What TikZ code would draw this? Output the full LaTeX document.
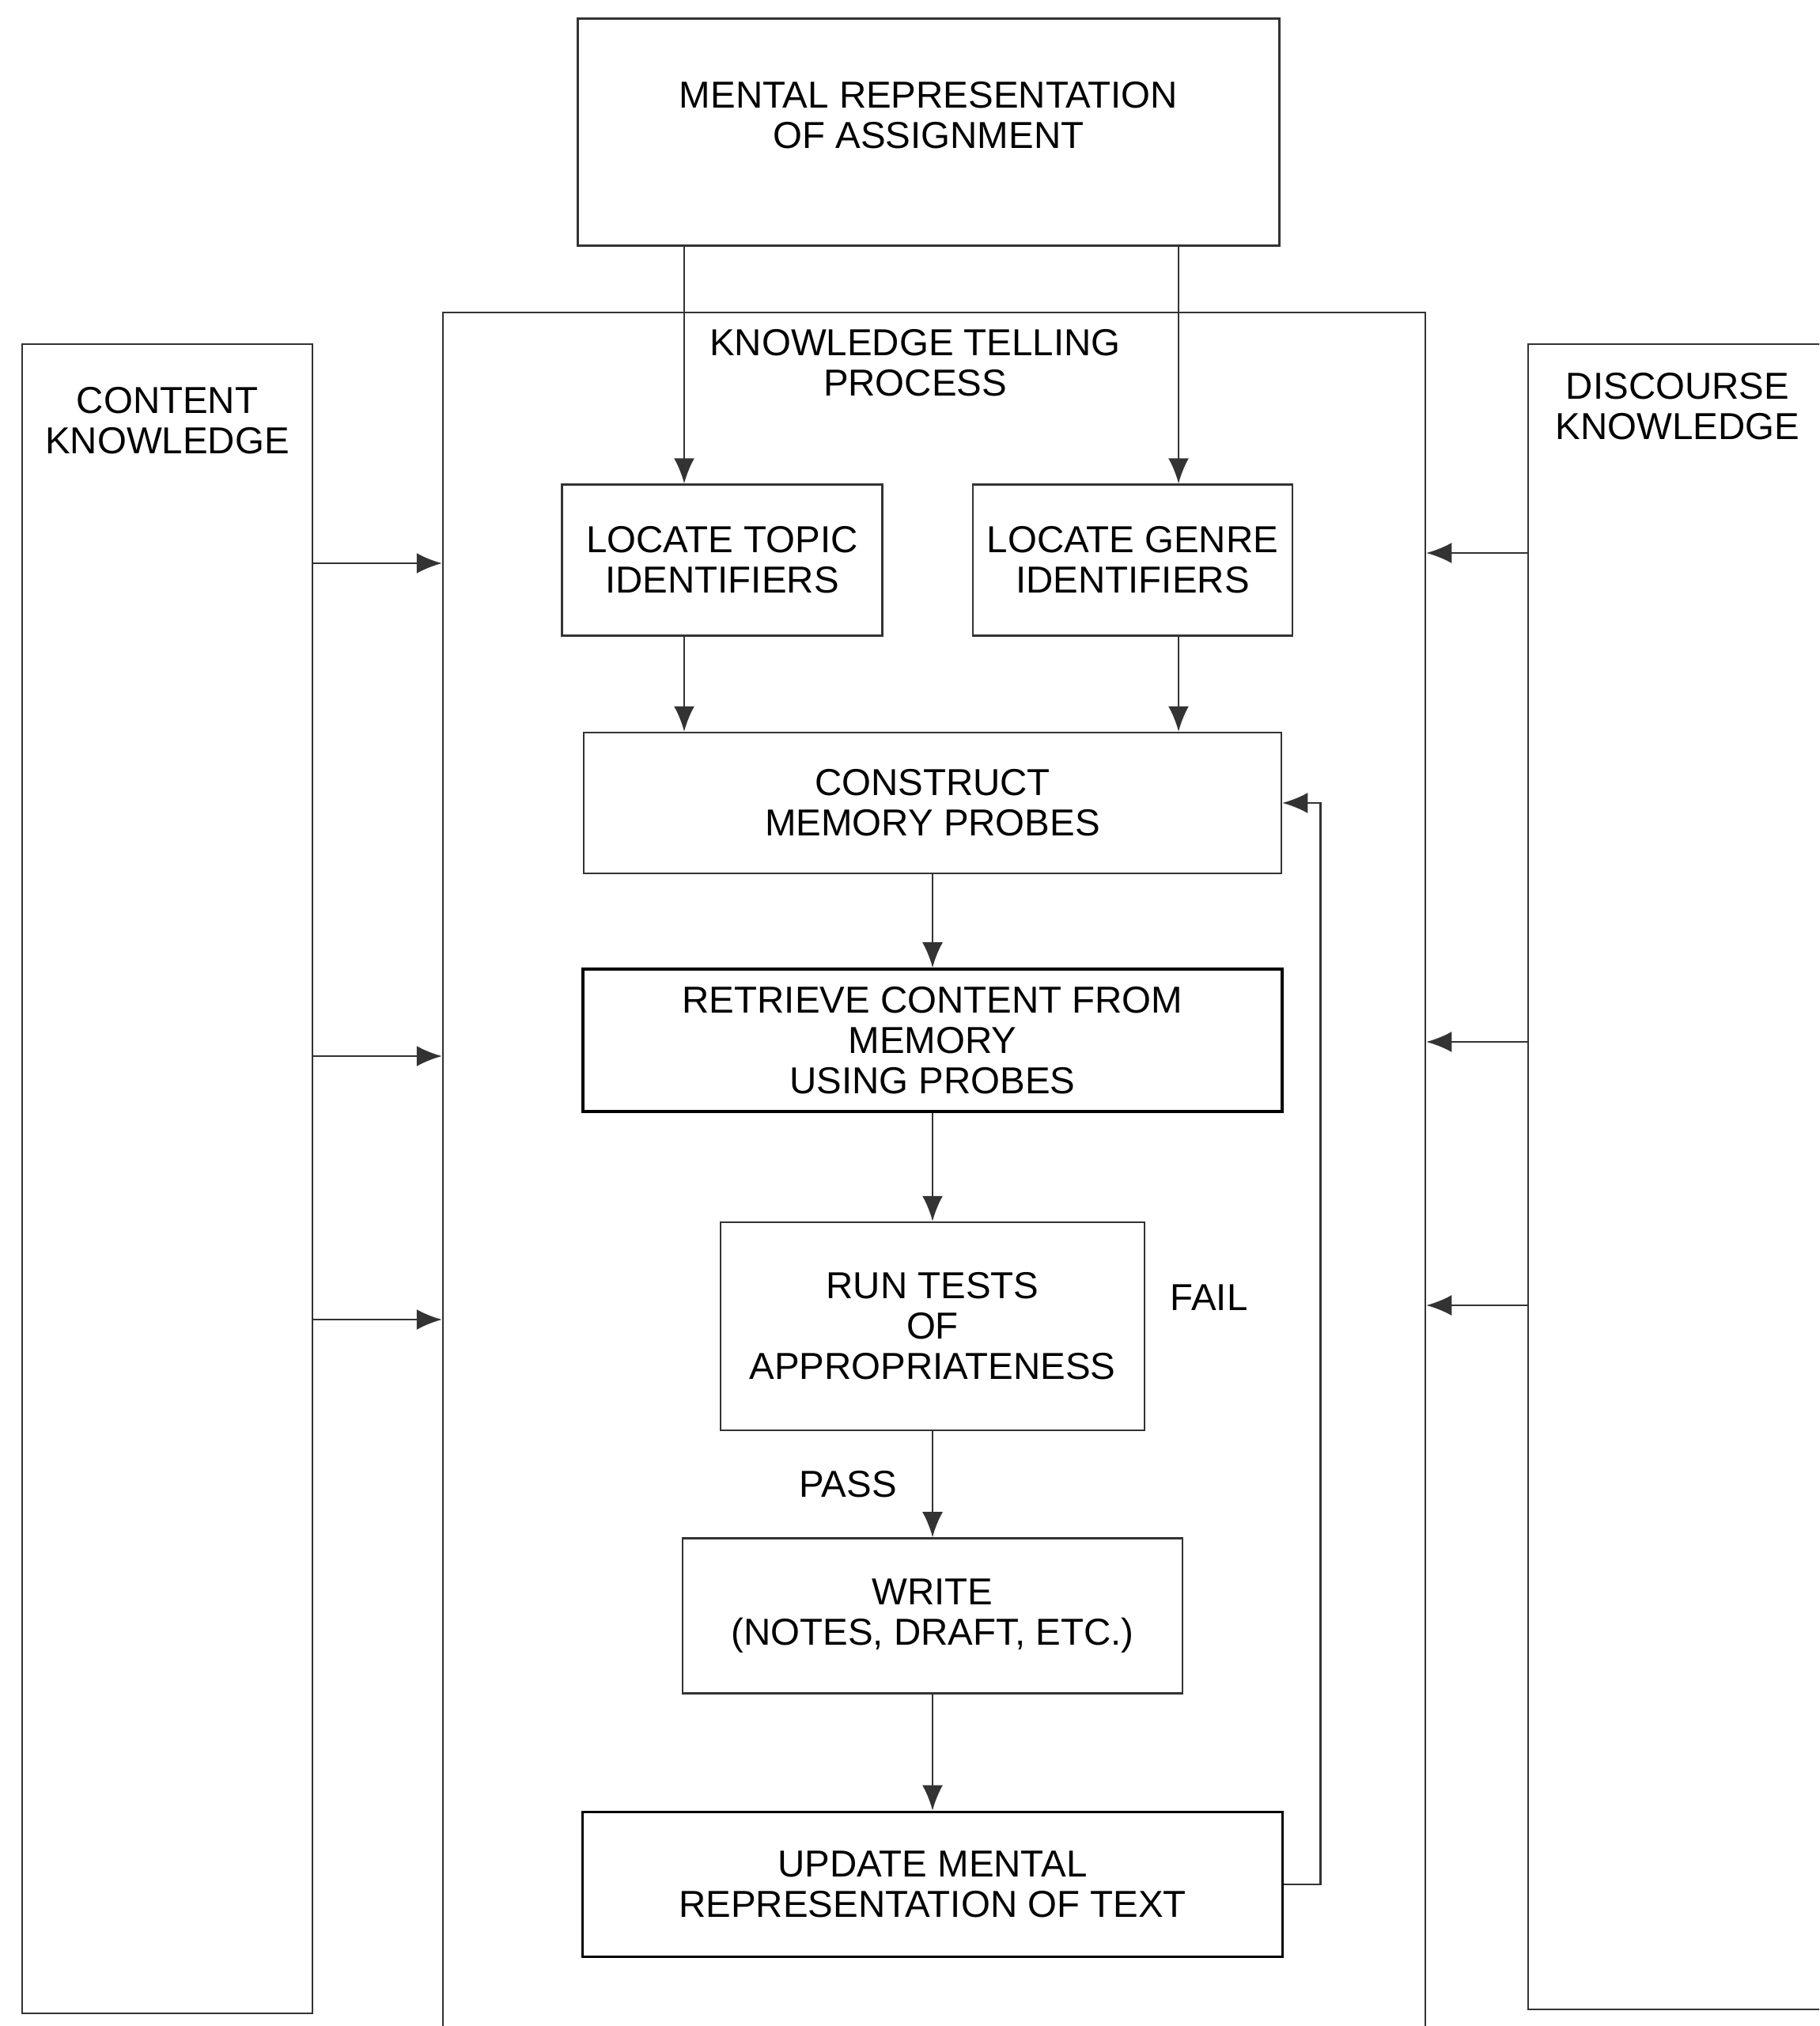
\documentclass[tikz,border=0pt]{standalone}
\usepackage{fontspec}
\setmainfont{Liberation Sans}
\usetikzlibrary{positioning}
\usetikzlibrary{arrows.meta}

\begin{document}
\begin{tikzpicture}[node distance=1.2cm, >={Latex[length=3.2mm,width=2.6mm]},
        every node/.style={font=\fontsize{13.5}{14.5}\selectfont, align=center, inner sep=0pt},
        procbox/.style={draw=black!80, line width=0.7pt},
        heavybox/.style={draw=black, line width=1pt},
        link/.style={->, draw=black!80, line width=0.7pt}]
            \useasboundingbox (0,0) rectangle (23,-25.61);
            \clip (0,0) rectangle (23,-25.61);
            % outer boxes
            \node[procbox, minimum width=8.87cm, minimum height=2.87cm] (assignment) at (11.74,-1.67) {};
            \node (assignment_text) [below=0.8cm of assignment.north] {MENTAL REPRESENTATION\\OF ASSIGNMENT};
            \node[procbox, minimum width=12.42cm, minimum height=24cm] (kt_process) at (11.81,-15.95) {};
            \node (kt_text) [below=0.22cm of kt_process.north, xshift=-0.24cm] {KNOWLEDGE TELLING\\PROCESS};
            \node[procbox, minimum width=3.67cm, minimum height=21.10cm] (content_knowledge) at (2.115,-14.90) {};
            \node (content_text) [below=0.55cm of content_knowledge.north] {CONTENT\\KNOWLEDGE};
            \node[procbox, minimum width=3.78cm, minimum height=21.05cm] (discourse_knowledge) at (21.21,-14.875) {};
            \node (discourse_text) [below=0.37cm of discourse_knowledge.north] {DISCOURSE\\KNOWLEDGE};
            % process steps
            \node[procbox, minimum width=4.05cm, minimum height=1.91cm] (locate_topic) at (9.13,-7.08) {LOCATE TOPIC\\IDENTIFIERS};
            \node[procbox, minimum width=4.04cm, minimum height=1.91cm] (locate_genre) at (14.32,-7.08) {LOCATE GENRE\\IDENTIFIERS};
            \node[procbox, minimum width=8.82cm, minimum height=1.78cm] (construct_probes) at (11.79,-10.15) {CONSTRUCT\\MEMORY PROBES};
            \node[heavybox, minimum width=8.84cm, minimum height=1.80cm] (retrieve_content) [below=1.18cm of construct_probes] {RETRIEVE CONTENT FROM\\MEMORY\\USING PROBES};
            \node[procbox, minimum width=5.36cm, minimum height=2.63cm] (run_tests) [below=1.37cm of retrieve_content] {RUN TESTS\\OF\\APPROPRIATENESS};
            \node[procbox, minimum width=6.32cm, minimum height=1.96cm] (write_text) [below=1.34cm of run_tests] {WRITE\\(NOTES, DRAFT, ETC.)};
            \node[heavybox, minimum width=8.85cm, minimum height=1.83cm] (update_text) [below=1.47cm of write_text] {UPDATE MENTAL\\REPRESENTATION OF TEXT};
            \node (fail_label) [right=0.31cm of run_tests, yshift=0.36cm] {FAIL};
            % arrows
            \coordinate (topic_line) at (8.65,0);
            \coordinate (genre_line) at (14.90,0);
            \draw[link] (assignment.south -| topic_line) -- (locate_topic.north -| topic_line);
            \draw[link] (assignment.south -| genre_line) -- (locate_genre.north -| genre_line);
            \draw[link] (locate_topic.south -| topic_line) -- (construct_probes.north -| topic_line);
            \draw[link] (locate_genre.south -| genre_line) -- (construct_probes.north -| genre_line);
            \draw[link] (construct_probes) -- (retrieve_content);
            \draw[link] (retrieve_content) -- (run_tests);
            \draw[link] (run_tests) -- node[left=0.44cm] {PASS} (write_text);
            \draw[link] (write_text) -- (update_text);
            \draw[link] (update_text.east) -- ++(0.46,0) |- (construct_probes.east);
            % knowledge feeds
            \coordinate (content_a) at (0,-7.12);
            \coordinate (content_b) at (0,-13.35);
            \coordinate (content_c) at (0,-16.68);
            \coordinate (discourse_a) at (0,-6.99);
            \coordinate (discourse_b) at (0,-13.17);
            \coordinate (discourse_c) at (0,-16.50);
            \draw[link] (content_knowledge.east |- content_a) -- (kt_process.west |- content_a);
            \draw[link] (content_knowledge.east |- content_b) -- (kt_process.west |- content_b);
            \draw[link] (content_knowledge.east |- content_c) -- (kt_process.west |- content_c);
            \draw[link] (discourse_knowledge.west |- discourse_a) -- (kt_process.east |- discourse_a);
            \draw[link] (discourse_knowledge.west |- discourse_b) -- (kt_process.east |- discourse_b);
            \draw[link] (discourse_knowledge.west |- discourse_c) -- (kt_process.east |- discourse_c);
        \end{tikzpicture}
\end{document}
